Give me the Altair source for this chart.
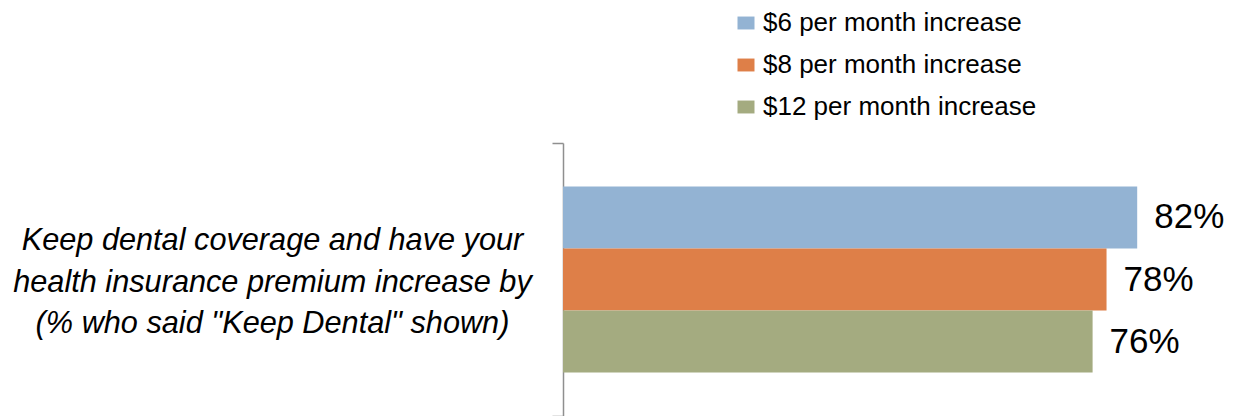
import altair as alt
import pandas as pd

question = ['Keep dental coverage and have your|health insurance premium increase by|(% who said "Keep Dental" shown)']
series = ["$6 per month increase", "$8 per month increase", "$12 per month increase"]
values = [82.4, 78, 76]
labels = ["82%", "78%", "76%"]
colors = ["#93B3D3", "#DE7F48", "#A4AB80"]

df = pd.DataFrame({
    "question": question * 3,
    "series": series,
    "value": values,
    "label": labels,
})

base = alt.Chart(df).encode(
    y=alt.Y(
        "question:N",
        scale=alt.Scale(paddingInner=0, paddingOuter=0),
        axis=alt.Axis(
            title=None,
            labelExpr="split(datum.label, '|')",
            domainColor="#8F8F8F",
            domainWidth=1.5,
            tickColor="#8F8F8F",
            tickWidth=1.5,
            tickSize=11,
            tickBand="extent",
            labelFont="Liberation Sans",
            labelFontSize=30.7,
            labelFontStyle="italic",
            labelColor="#000000",
            labelAlign="center",
            labelBaseline="middle",
            labelPadding=280,
            labelOffset=-39,
            labelLimit=800,
            labelLineHeight=41.5,
        ),
    ),
    yOffset=alt.YOffset("series:N", sort=series, scale=alt.Scale(paddingInner=0, paddingOuter=0.7016)),
)

bars = base.mark_bar().encode(
    x=alt.X("value:Q", scale=alt.Scale(domain=[0, 95], nice=False, zero=True), axis=None),
    color=alt.Color(
        "series:N",
        scale=alt.Scale(domain=series, range=colors),
        legend=alt.Legend(
            title=None,
            orient="none",
            legendX=170,
            legendY=-133,
            symbolType="M-1,-0.76L1,-0.76L1,0.76L-1,0.76Z",
            symbolSize=289,
            symbolStrokeWidth=0,
            symbolOpacity=1,
            labelFont="Liberation Sans",
            labelFontSize=26,
            labelColor="#000000",
            labelOffset=4,
            rowPadding=16,
            labelLimit=500,
        ),
    ),
)

texts = base.mark_text(
    align="left", baseline="middle", dx=17,
    font="Liberation Sans", fontSize=35, color="#000000",
).encode(
    x=alt.X("value:Q"),
    text="label:N",
)

chart = (bars + texts).properties(
    width=662,
    height=273,
    padding={"left": 563, "top": 143, "right": 13, "bottom": 0},
    autosize="none",
).configure_view(stroke=None)

chart.save("out.html", embed_options={"renderer": "svg", "actions": False})
